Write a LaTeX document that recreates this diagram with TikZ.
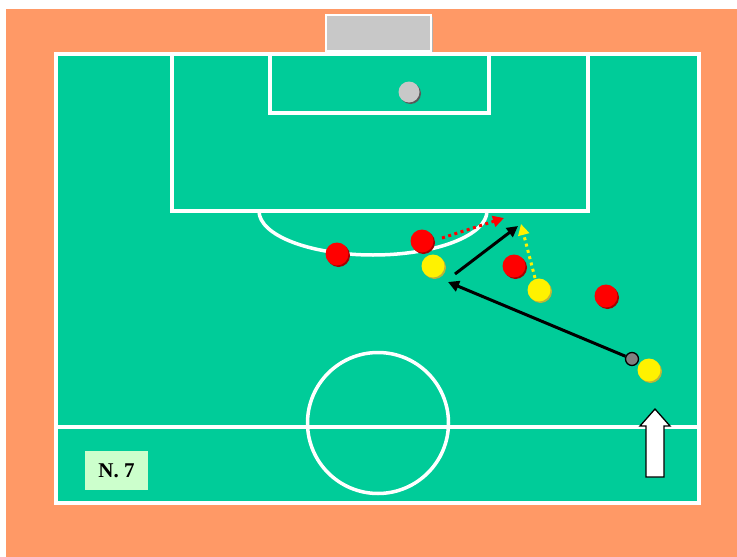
\documentclass[tikz,border=0pt]{standalone}
\usepackage{fontspec}
\setmainfont{Liberation Serif}
\usetikzlibrary{arrows.meta}
\definecolor{bgorange}{HTML}{FF9966}
\definecolor{pitch}{HTML}{00CC99}
\definecolor{goalgray}{HTML}{C8C8C8}
\definecolor{labelgreen}{HTML}{CCFFCC}
\begin{document}
\begin{tikzpicture}[x=1pt,y=-1pt,
  pline/.style={draw=white,line width=3.5pt},
  redp/.style={circle,fill=red,minimum size=23pt,inner sep=0pt},
  yelp/.style={circle,fill=yellow,minimum size=23pt,inner sep=0pt},
  shad/.style={circle,minimum size=23pt,inner sep=0pt},
  run/.style={black,line width=3pt,-{Triangle[length=11pt,width=11pt]}},
  pass/.style={line width=3pt,dash pattern=on 3pt off 3.5pt,-{Triangle[length=11pt,width=11pt]}}]
\useasboundingbox (0,0) rectangle (737,557);
\fill[white] (0,0) rectangle (737,557);
\fill[bgorange] (6,9) rectangle (737,557);
% goal
\fill[gray!60] (328,17) rectangle (433,53);
\filldraw[fill=goalgray,draw=white,line width=2pt] (326,15) rectangle (431,51);
% pitch
\filldraw[fill=pitch,pline] (56,54) rectangle (699,503);
\draw[pline] (56,427) -- (699,427);
\draw[pline] (378,423) circle (70.5);
\draw[pline] (172,54) rectangle (588,211);
\draw[pline] (270,54) rectangle (489,113);
\draw[pline] (259,211) arc[start angle=180,end angle=0,x radius=114,y radius=44];
% ball at goal
\fill[gray!70!black] (410.5,93.5) circle (10.5);
\node[circle,fill=goalgray,minimum size=21pt,inner sep=0pt] (gk) at (409,92) {};
% red players
\foreach \n/\px/\py in {r1/337/254, r2/422/241, r3/514/266, r4/606/296}{
  \node[shad,fill=red!65!black] at (\px+1.5,\py+1.5) {};
  \node[redp] (\n) at (\px,\py) {};
}
% yellow players
\foreach \n/\px/\py in {y1/433/266, y2/539/290, y3/649/370}{
  \node[shad,fill=yellow!70!black] at (\px+1.5,\py+1.5) {};
  \node[yelp] (\n) at (\px,\py) {};
}
% small ball
\node[circle,fill=gray,draw=black,line width=1.3pt,minimum size=13pt,inner sep=0pt] (ball) at (632,359) {};
% arrows
\coordinate (rs) at (442,238);
\coordinate (rt) at (504,218);
\coordinate (bs) at (455,274);
\coordinate (bt) at (518,226);
\coordinate (ys) at (535,278);
\coordinate (yt) at (521,224);
\coordinate (pt) at (448,282);
\draw[pass,red] (rs) -- (rt);
\draw[run] (bs) -- (bt);
\draw[pass,yellow] (ys) -- (yt);
\draw[run] (ball) -- (pt);
% block arrow
\draw[black,line width=1.3pt,fill=white]
  (646,477) -- (646,426) -- (640,426) -- (655,409) -- (670,426) -- (664,426) -- (664,477) -- cycle;
% label
\node[fill=labelgreen,minimum width=63pt,minimum height=39pt,inner sep=0pt,font=\bfseries\fontsize{21}{24}\selectfont] (lbl) at (116.5,470.5) {N. 7};
\end{tikzpicture}
\end{document}
